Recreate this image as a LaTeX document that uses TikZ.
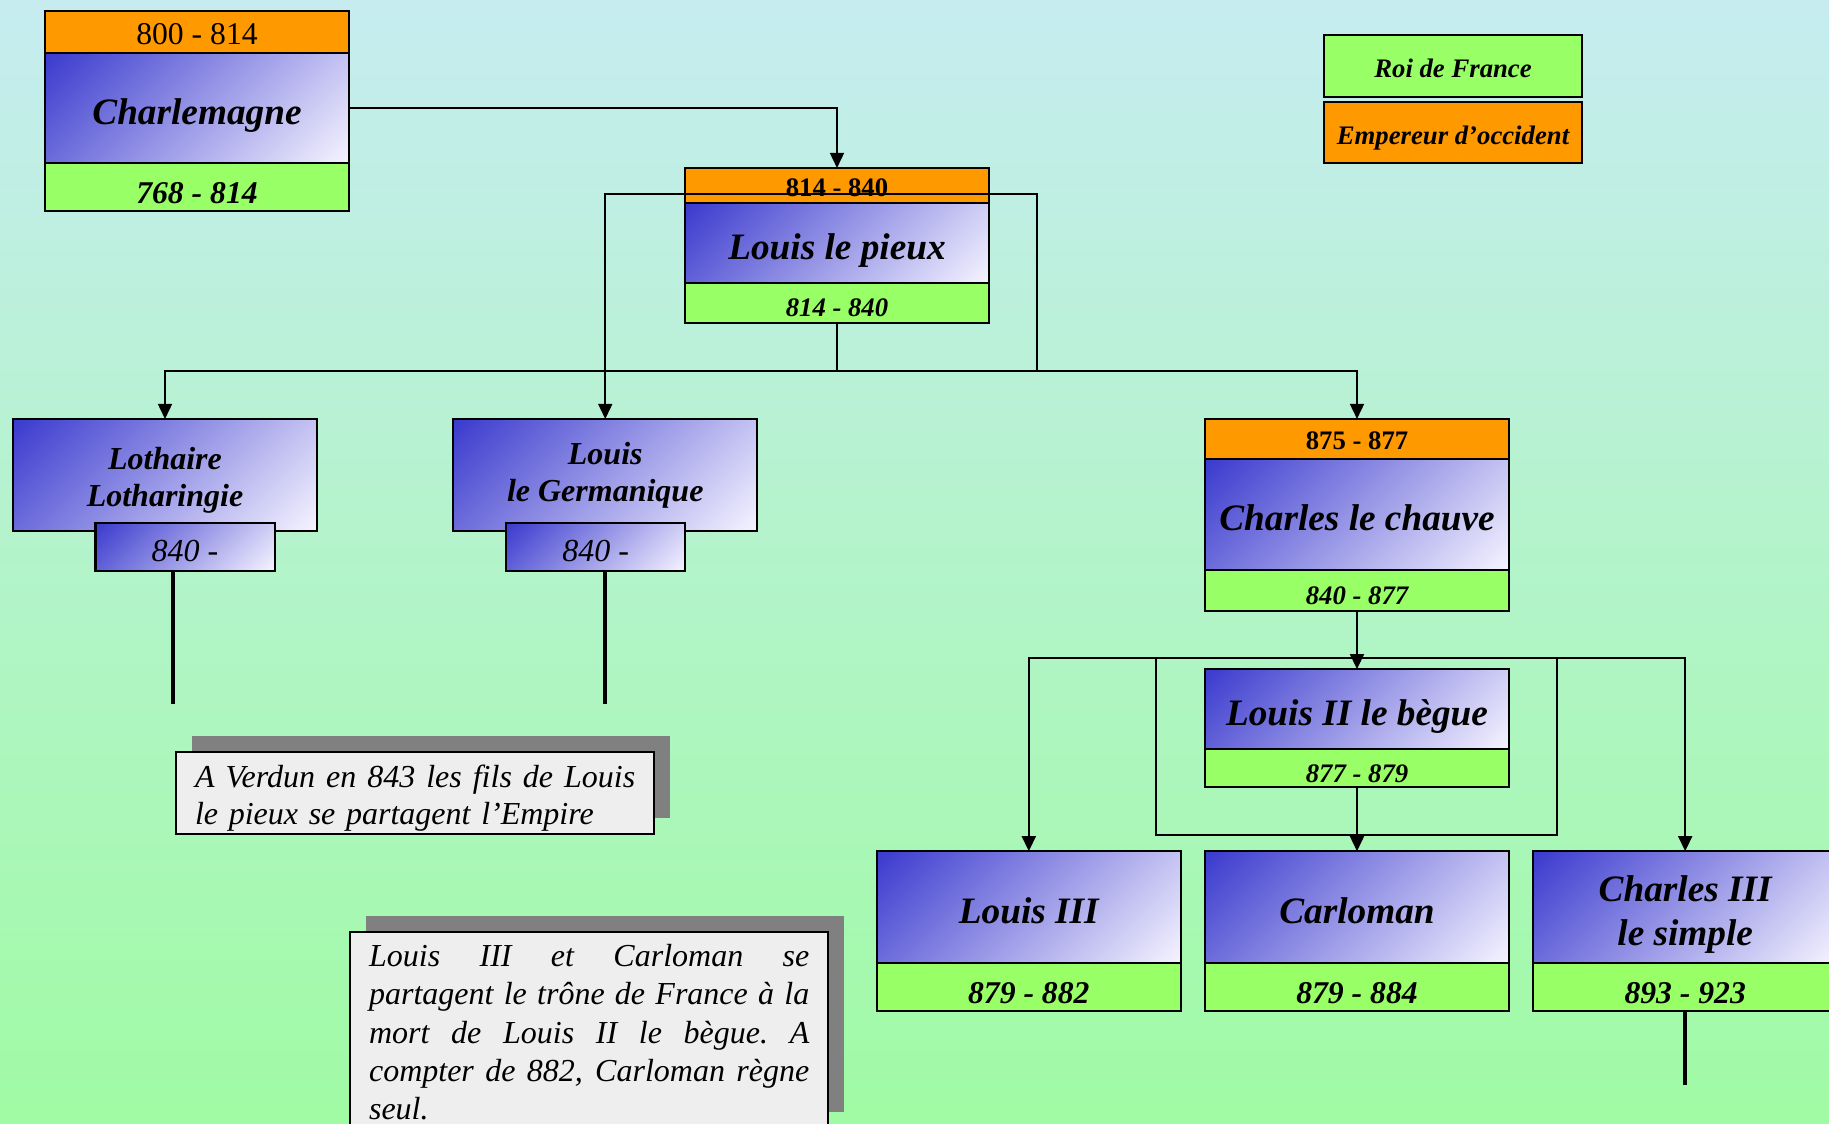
\documentclass[tikz,border=0pt]{standalone}
\usepackage{fontspec}
\setmainfont{Liberation Serif}
\usetikzlibrary{arrows.meta, positioning, calc, shadows}

\definecolor{royal}{RGB}{58,58,206}
\definecolor{pale}{RGB}{246,244,255}
\definecolor{empire}{RGB}{255,153,0}
\definecolor{king}{RGB}{153,255,102}
\definecolor{skytop}{RGB}{198,236,240}
\definecolor{grassbot}{RGB}{160,251,164}
\definecolor{notebg}{RGB}{238,238,238}
\definecolor{noteshadow}{RGB}{128,128,128}

% corner to corner fade for the name boxes
\pgfdeclarehorizontalshading{boxfade}{100bp}{color(0bp)=(royal); color(32.32bp)=(royal);
    color(67.68bp)=(pale); color(100bp)=(pale)}

% one justified line of a note
\newcommand\fullline[1]{\makebox[4.40cm][s]{\spaceskip=0.25em plus 1fil\relax
    \xspaceskip=0.25em plus 1fil\relax #1}}

\begin{document}
\begin{tikzpicture}[
    x=0.01cm, y=-0.01cm,
    % Styles
    namebox/.style={
        draw, line width=0.6pt, minimum width=3.04cm, inner sep=0pt,
        outer sep=0pt, align=center,
        font=\bfseries\itshape\fontsize{10.6}{12.6}\selectfont,
        text height=11.4pt, text depth=2.3pt,
        path picture={
            \shade[shading=boxfade, shading angle=-45]
                let \p1=(path picture bounding box.south west),
                    \p2=(path picture bounding box.north east),
                    \n1={(\x2-\x1+\y2-\y1)/2}
                in ($(path picture bounding box.center)+(-\n1,-\n1)$)
                    rectangle ++({2*\n1},{2*\n1});
        }
    },
    empband/.style={
        draw, line width=0.6pt, fill=empire, minimum width=3.04cm,
        inner sep=0pt, outer sep=0pt
    },
    kingband/.style={
        draw, line width=0.6pt, fill=king, minimum width=3.04cm,
        inner sep=0pt, outer sep=0pt
    },
    bigdate/.style={font=\bfseries\itshape\fontsize{9}{10}\selectfont,
        text height=9.4pt, text depth=0pt},
    smalldate/.style={font=\bfseries\itshape\fontsize{7.6}{9}\selectfont,
        text height=7.9pt, text depth=0pt},
    smallemp/.style={font=\bfseries\fontsize{7.6}{9}\selectfont,
        text height=6pt, text depth=0pt},
    legend/.style={minimum width=2.57cm,
        font=\bfseries\itshape\fontsize{7.6}{9}\selectfont,
        text height=6.8pt, text depth=0pt},
    subname/.style={font=\bfseries\itshape\fontsize{9.1}{10.6}\selectfont,
        text height=, text depth=},
    reign/.style={
        namebox, minimum width=1.79cm, minimum height=0.48cm,
        font=\itshape\fontsize{9.1}{10}\selectfont,
        text height=8.2pt, text depth=0pt
    },
    note/.style={
        draw, line width=0.6pt, fill=notebg, text width=4.40cm,
        inner xsep=0.19cm, inner ysep=0pt, align=left, anchor=north west,
        drop shadow={shadow xshift=0.16cm, shadow yshift=0.16cm,
            fill=noteshadow, opacity=1}
    },
    link/.style={line width=0.45pt},
    arrow/.style={link, -{Triangle[length=0.15cm, width=0.14cm]}},
    tail/.style={line width=1pt}
]

    \clip (0,0) rectangle (1829,1123);
    \shade[top color=skytop, bottom color=grassbot] (0,0) rectangle (1829,1123);

    % --- Charlemagne ---
    \node[namebox, minimum height=1.10cm] (charl) at (197,108) {Charlemagne};
    \node[empband, minimum height=0.42cm, font=\fontsize{9}{10}\selectfont,
        text height=7.4pt, text depth=0pt, above=0pt of charl] (charl-e) {800 - 814};
    \node[kingband, minimum height=0.48cm, bigdate, below=0pt of charl] (charl-r) {768 - 814};

    % --- Louis le pieux ---
    \node[namebox, minimum height=0.80cm] (pieux) at (837,243) {Louis le pieux};
    \node[empband, minimum height=0.35cm, smallemp, above=0pt of pieux] (pieux-e) {814 - 840};
    \node[kingband, minimum height=0.40cm, smalldate, below=0pt of pieux] (pieux-r) {814 - 840};

    % --- Lothaire & Louis le Germanique ---
    \node[namebox, minimum height=1.12cm, subname] (lothaire) at (165,475) {\rule{0pt}{9.5pt}Lothaire\\Lotharingie};
    \node[reign, below=-0.08cm of lothaire, xshift=0.2cm] (lothaire-d) {840 -};
    \node[namebox, minimum height=1.12cm, subname, right=1.36cm of lothaire] (germ) {Louis\\le Germanique};
    \node[reign, below=-0.08cm of germ, xshift=-0.095cm] (germ-d) {840 -};

    % --- Charles le chauve ---
    \node[namebox, minimum height=1.11cm] (chauve) at (1357,514.5) {Charles le chauve};
    \node[empband, minimum height=0.40cm, smallemp, above=0pt of chauve] (chauve-e) {875 - 877};
    \node[kingband, minimum height=0.41cm, smalldate, below=0pt of chauve] (chauve-r) {840 - 877};

    % --- Louis II le begue ---
    \node[namebox, minimum height=0.80cm, below=0.58cm of chauve-r] (begue) {Louis II le bègue};
    \node[kingband, minimum height=0.38cm, smalldate, below=0pt of begue] (begue-r) {877 - 879};

    % --- Row of sons ---
    \node[namebox, minimum height=1.12cm, below=0.64cm of begue-r] (carloman) {Carloman};
    \node[kingband, minimum height=0.48cm, bigdate, below=0pt of carloman] (carloman-r) {879 - 884};
    \node[namebox, minimum height=1.12cm, left=0.24cm of carloman] (louis3) {Louis III};
    \node[kingband, minimum height=0.48cm, bigdate, below=0pt of louis3] (louis3-r) {879 - 882};
    \node[namebox, minimum height=1.12cm, text height=, text depth=,
        right=0.24cm of carloman] (simple) {\rule{0pt}{11.4pt}Charles III\\le simple};
    \node[kingband, minimum height=0.48cm, bigdate, below=0pt of simple] (simple-r) {893 - 923};

    % --- Legend ---
    \node[kingband, legend, minimum height=0.62cm] (roi) at (1453,66) {Roi de France};
    \node[empband, legend, minimum height=0.61cm, below=0.05cm of roi] (emp) {Empereur d’occident};

    % --- Notes ---
    \node[note, minimum height=0.82cm, font=\itshape\fontsize{9.1}{10.5}\selectfont] (verdun) at (175,751) {
        \rule{0pt}{9.1pt}\fullline{A Verdun en 843 les fils de Louis}\\
        le pieux se partagent l’Empire
    };
    \node[note, minimum height=1.96cm, font=\itshape\fontsize{9.1}{10.9}\selectfont] (partage) at (349,931) {
        \rule{0pt}{7.5pt}\fullline{Louis III et Carloman se}\\
        \fullline{partagent le trône de France à la}\\
        \fullline{mort de Louis II le bègue. A}\\
        \fullline{compter de 882, Carloman règne}\\
        seul.
    };

    % --- Connections ---
    \draw[arrow] (charl.east) -| (pieux-e.north);
    \coordinate[below=0.48cm of pieux-r] (bus1);
    \draw[link] (pieux-r.south) -- (bus1);
    \draw[arrow] (bus1) -| (lothaire.north);
    \draw[arrow] (bus1) -| (chauve-e.north);
    \draw[arrow] (bus1) -- ++(200,0) -- ++(0,-177) -| (germ.north);

    \coordinate[below=0.47cm of chauve-r] (bus2);
    \draw[arrow] (chauve-r.south) -- (begue.north);
    \draw[arrow] (bus2) -| (louis3.north);
    \draw[arrow] (bus2) -| (simple.north);
    \draw[link] (bus2) ++(-201,0) -- ++(0,177) -- ++(401,0) -- ++(0,-177);
    \draw[arrow] (begue-r.south) -- (carloman.north);

    % --- Open lines ---
    \draw[tail] ($(lothaire-d.south)+(-12,0)$) -- ++(0,133);
    \draw[tail] ($(germ-d.south)+(9.5,0)$) -- ++(0,133);
    \draw[tail] (simple-r.south) -- ++(0,74);

\end{tikzpicture}
\end{document}
